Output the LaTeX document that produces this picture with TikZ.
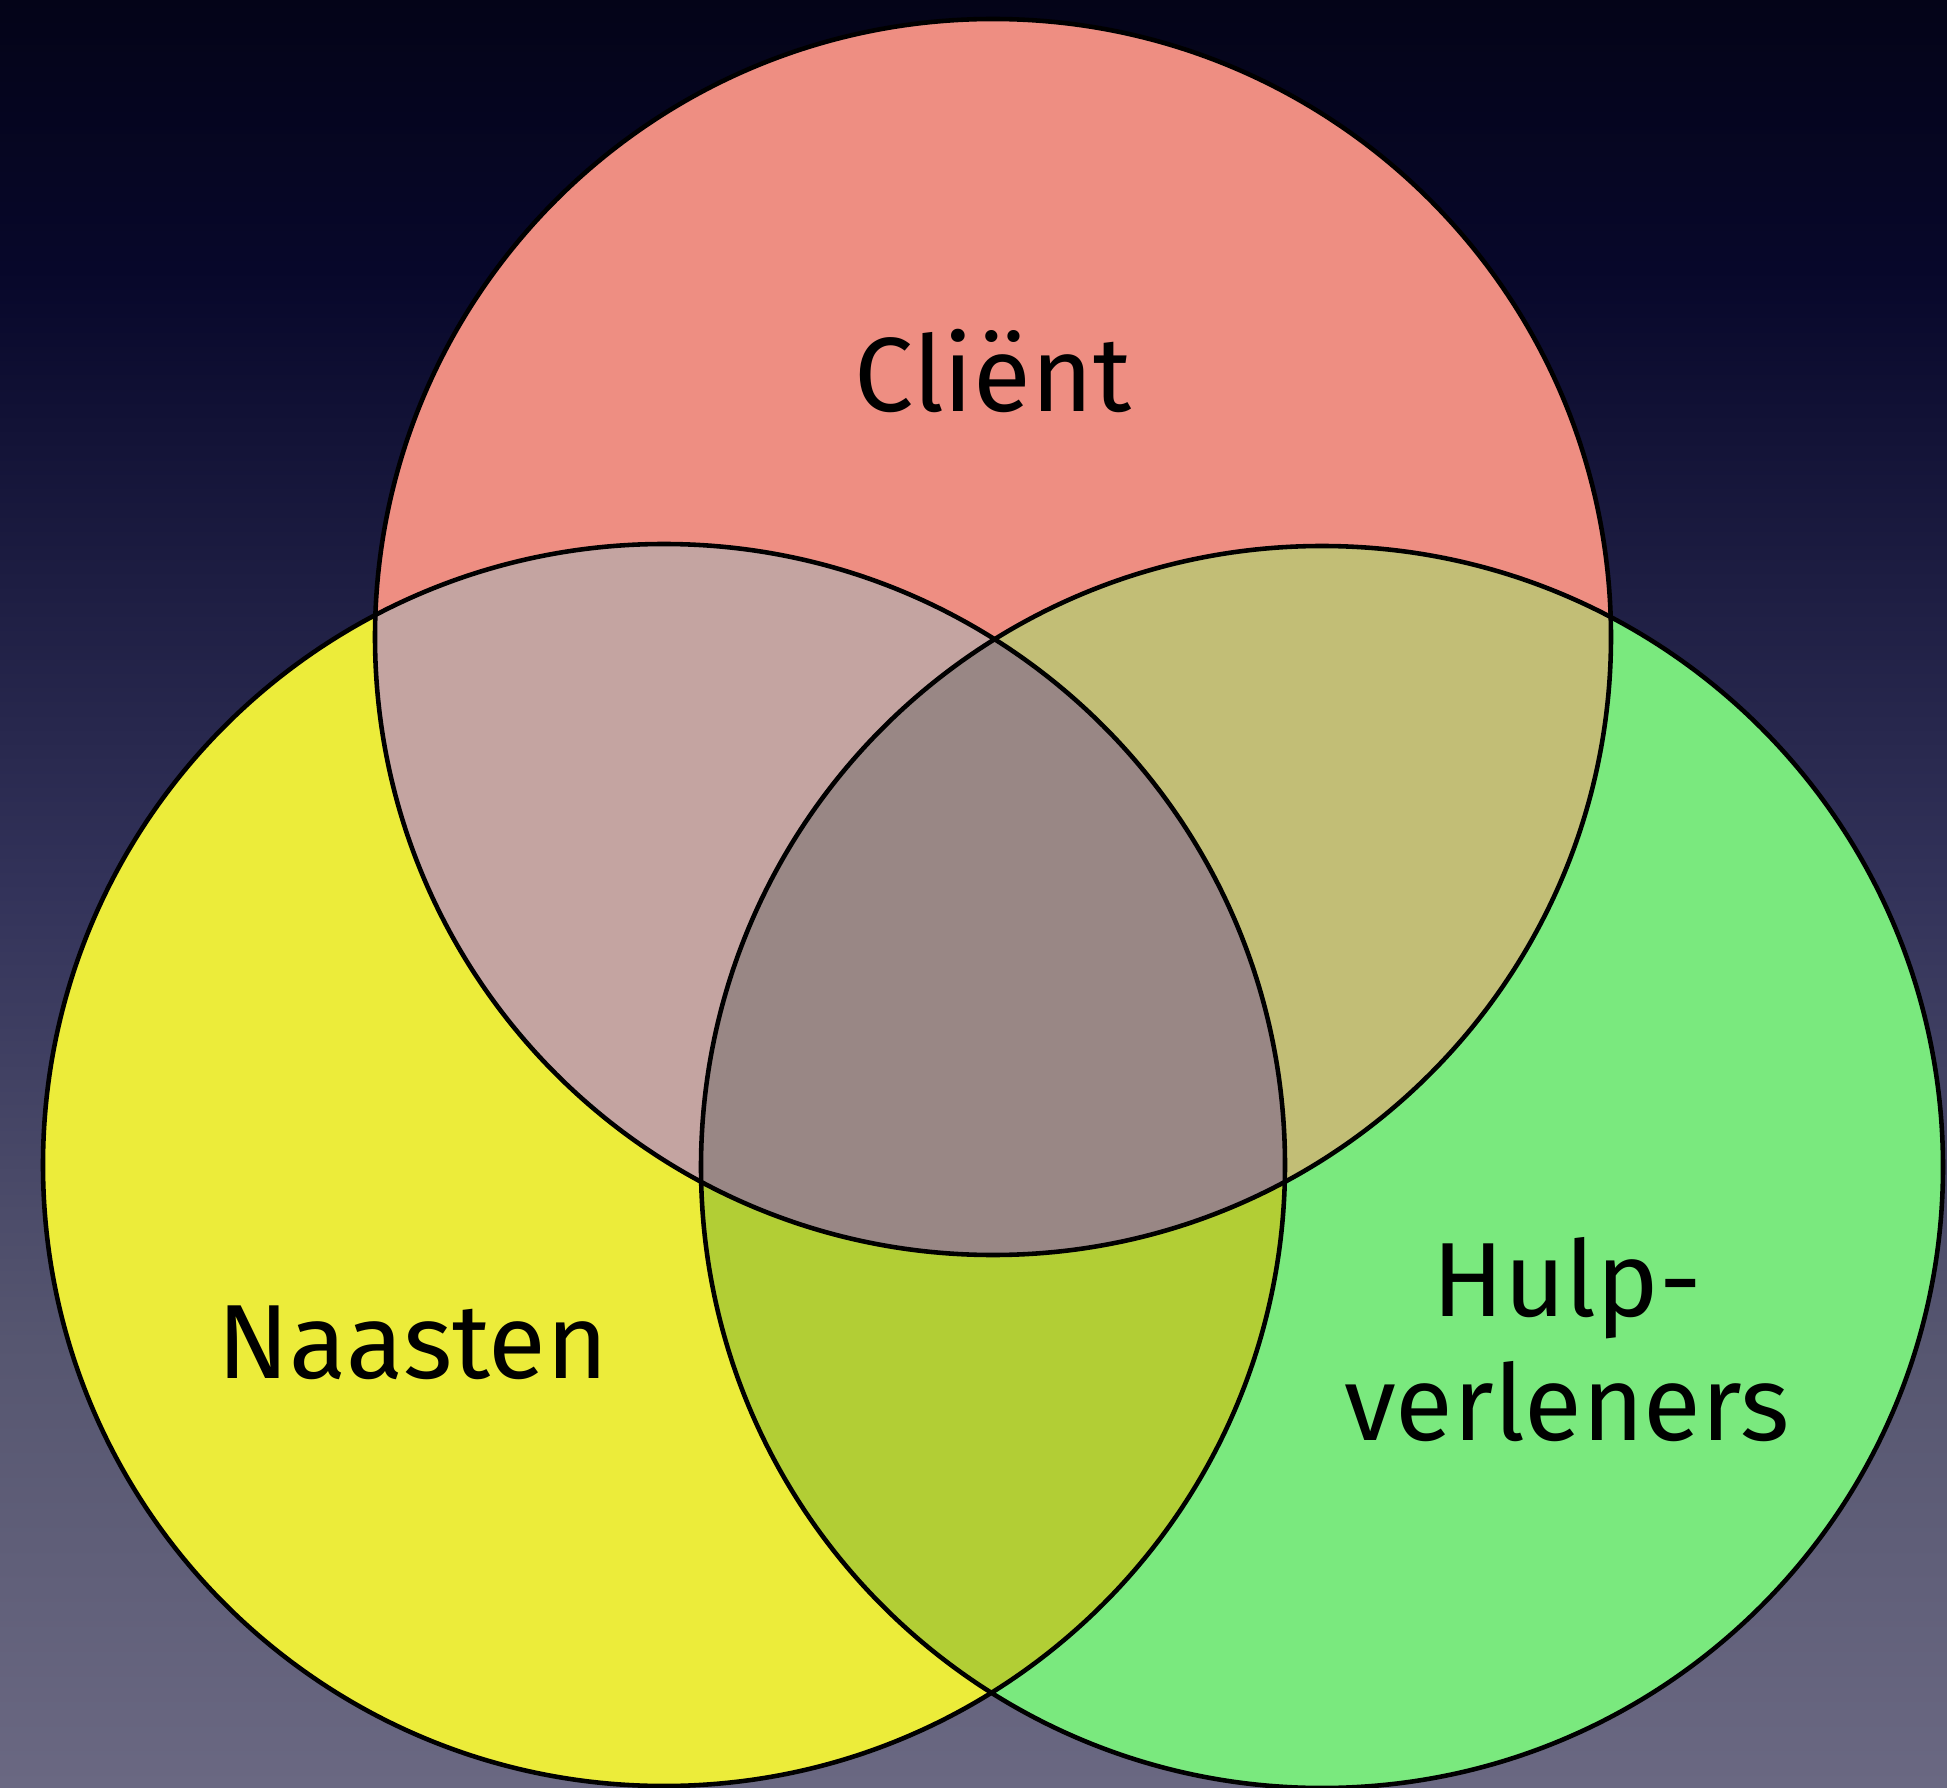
\documentclass[tikz,border=0pt]{standalone}
\usepackage{fontspec}
\setmainfont{Fira Sans}
\definecolor{bgtop}{HTML}{040418}
\definecolor{bgnavy}{HTML}{07072A}
\definecolor{bgmid}{HTML}{33335A}
\definecolor{bglow}{HTML}{565670}
\definecolor{bgbot}{HTML}{6A6882}
\pgfdeclareverticalshading{bgshade}{100bp}{color(0bp)=(bgbot); color(25bp)=(bgbot); color(37.5bp)=(bglow); color(50bp)=(bgmid); color(67.5bp)=(bgnavy); color(75bp)=(bgtop); color(100bp)=(bgtop)}
\begin{document}
\begin{tikzpicture}[x=0.01cm,y=-0.01cm,
  outline/.style={draw=black,line width=1.3pt},
  label/.style={anchor=base,inner sep=0pt,font=\fontsize{30}{33}\selectfont,text=black}]
\definecolor{cC}{HTML}{EE8E82}
\definecolor{cN}{HTML}{ECEC3A}
\definecolor{cH}{HTML}{7AE97E}
\definecolor{cCN}{HTML}{C4A4A1}
\definecolor{cCH}{HTML}{C2BE76}
\definecolor{cNH}{HTML}{B2CE35}
\definecolor{cCNH}{HTML}{998785}
\useasboundingbox (0,0) rectangle (1947,1788);
\shade[shading=bgshade] (0,0) rectangle (1947,1788);
\def\rC{(993,637) circle[radius=618]}
\def\rN{(664,1165) circle[radius=621]}
\def\rH{(1322,1167) circle[radius=621]}
\fill[cC] \rC;
\fill[cN] \rN;
\fill[cH] \rH;
\begin{scope}\clip \rC; \fill[cCN] \rN; \end{scope}
\begin{scope}\clip \rC; \fill[cCH] \rH; \end{scope}
\begin{scope}\clip \rN; \fill[cNH] \rH; \end{scope}
\begin{scope}\clip \rC; \clip \rN; \fill[cCNH] \rH; \end{scope}
\draw[outline] \rC;
\draw[outline] \rN;
\draw[outline] \rH;
\node[label] (client) at (993,412) {Cliënt};
\node[label] (naasten) at (413,1378) {Naasten};
\node[label] (hulp1) at (1567,1316) {Hulp-};
\node[label] (hulp2) at (1567,1440) {verleners};
\end{tikzpicture}
\end{document}
